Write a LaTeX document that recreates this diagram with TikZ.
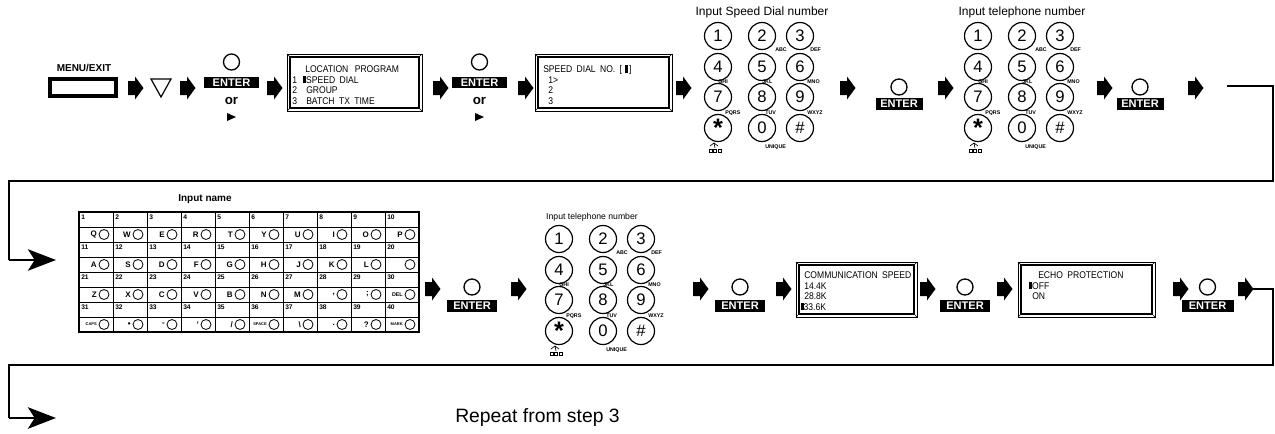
\documentclass[tikz,border=0pt]{standalone}
\usepackage{fontspec}
\setmainfont{Liberation Sans}
\newfontfamily\lcdf[FakeStretch=0.88]{Liberation Sans}
\usetikzlibrary{arrows.meta}
\newcommand\fsz[1]{\fontsize{#1}{#1}\selectfont}
\newcommand\blkarrow[2]{\fill ({#1},{#2-7}) -- ++(7,0) -- ++(0,-4.5) -- ++(8.5,11.5) -- ++(-8.5,11.5) -- ++(0,-4.5) -- ++(-7,0) -- cycle;}
\newcommand\enterbtn[6]{%
  \node[btncirc] (#1c) at (#2,#3) {};
  \node[enterbox, minimum width=#5*0.75pt, minimum height=#6*0.75pt] (#1) at (#2,#4) {ENTER};}
\newcommand\lcdframe[5]{%
  \node[draw, line width=0.6pt, inner sep=0pt, minimum width={(#4-#2)*0.75pt}, minimum height={(#5-#3)*0.75pt}] (#1) at ({(#2+#4)/2},{(#3+#5)/2}) {};
  \draw[line width=1.1pt] ({#2+3},{#3+3}) rectangle ({#4-3},{#5-3});
  \draw[line width=0.4pt] (#2,#3) -- ({#2+3},{#3+3}) (#4,#3) -- ({#4-3},{#3+3}) (#2,#5) -- ({#2+3},{#5-3}) (#4,#5) -- ({#4-3},{#5-3});}
\newcommand\keypad[3]{%
  \begin{scope}[shift={(#2,#3)}]
  \node[key] (#1-1) at (0,0) {1};
  \node[key] (#1-2) at (44,0) {2};
  \node[key] (#1-3) at (82,0) {3};
  \node[key] (#1-4) at (0,31) {4};
  \node[key] (#1-5) at (44,31) {5};
  \node[key] (#1-6) at (82,31) {6};
  \node[key] (#1-7) at (0,61) {7};
  \node[key] (#1-8) at (44,61) {8};
  \node[key] (#1-9) at (82,61) {9};
  \node[key] (#1-s) at (0,92) {\raisebox{-0.3em}{\bfseries\fsz{19}*}};
  \node[key] (#1-0) at (44,92) {0};
  \node[key] (#1-h) at (82,92) {\#};
  \node[sub] (#1-abc) at (57,14) {ABC};
  \node[sub] (#1-def) at (92,14) {DEF};
  \node[sub] (#1-ghi) at (0,46) {GHI};
  \node[sub] (#1-jkl) at (44,46) {JKL};
  \node[sub] (#1-mno) at (89,46) {MNO};
  \node[sub] (#1-pqrs) at (7,77) {PQRS};
  \node[sub] (#1-tuv) at (47,77) {TUV};
  \node[sub] (#1-wxyz) at (89,77) {WXYZ};
  \node[sub] (#1-uni) at (47,111) {UNIQUE};
  \draw[line width=0.4pt] (-9,113) rectangle (-6,116) (-4.5,113) rectangle (-1.5,116) (0,113) rectangle (3,116);
  \draw[line width=0.5pt] (-8,110) -- (-4,107) -- (0,110) (-4,107) -- (-3,112);
  \end{scope}}
\tikzset{
  enterbox/.style={fill=black, text=white, font=\bfseries\fsz{8.3}, inner sep=0pt},
  btncirc/.style={circle, draw, line width=1pt, minimum size=16*0.75pt, inner sep=0pt},
  key/.style={circle, draw, line width=0.9pt, minimum size=27*0.75pt, inner sep=0pt, font=\fsz{12.5}},
  sub/.style={anchor=west, inner sep=0pt, font=\bfseries\fsz{4}},
  lcdtxt/.style={anchor=base west, inner sep=0pt, font=\lcdf\fsz{7.3}},
  kbnum/.style={anchor=west, inner sep=0pt, font=\bfseries\fsz{5}},
  kblet/.style={anchor=east, inner sep=0pt, font=\bfseries\fsz{6}},
  kbc/.style={circle, draw, line width=0.6pt, minimum size=10*0.75pt, inner sep=0pt},
  loopline/.style={line width=2.2pt},
  looparrow/.style={line width=2.2pt, -{Stealth[length=21pt, width=16pt, inset=5pt]}}
}
\newcommand\cur{\rule{2.2pt}{5.4pt}}
\begin{document}
\begin{tikzpicture}[x=0.75pt,y=-0.75pt]
\useasboundingbox (0,0) rectangle (1275,433);
% ---------- row 1 ----------
\node[font=\bfseries\fsz{7.5}] (menulbl) at (84,68) {MENU/EXIT};
\node[draw, line width=3pt, inner sep=0pt, minimum width=66*0.75pt, minimum height=17*0.75pt] (menubtn) at (83,87.5) {};
\blkarrow{128}{88}
\draw[line width=0.9pt] (151,79) -- (171,79) -- (161,97) -- cycle;
\blkarrow{180}{88}
\enterbtn{e1}{231.5}{62}{82.5}{55}{11}
\node[font=\bfseries\fsz{10}] (or1) at (231.5,101) {or};
\fill (227,113) -- (236,117) -- (227,121) -- cycle;
\blkarrow{267}{88}
\lcdframe{lcd1}{287}{54}{422}{111}
\node[lcdtxt] (t1a) at (305,72.5) {LOCATION\hspace{3pt} PROGRAM};
\node[lcdtxt] (t1b) at (292,83) {1};
\node[lcdtxt] (t1bb) at (303,83) {\cur SPEED\hspace{1.5pt} DIAL};
\node[lcdtxt] (t1c) at (292,93.5) {2};
\node[lcdtxt] (t1cc) at (306,93.5) {GROUP};
\node[lcdtxt] (t1d) at (292,104) {3};
\node[lcdtxt] (t1dd) at (306,104) {BATCH\hspace{1.5pt} TX\hspace{1.5pt} TIME};
\blkarrow{433}{88}
\enterbtn{e2}{479.5}{62}{82.5}{55}{11}
\node[font=\bfseries\fsz{10}] (or2) at (479.5,101) {or};
\fill (475,113) -- (484,117) -- (475,121) -- cycle;
\blkarrow{518}{88}
\lcdframe{lcd2}{535}{54}{672}{111}
\node[lcdtxt] (t2a) at (543,72.5) {SPEED\hspace{1.5pt} DIAL\hspace{1.5pt} NO.\hspace{1.5pt} [\hspace{2pt}\cur\hspace{1pt}]};
\node[lcdtxt] (t2b) at (548,83) {1>};
\node[lcdtxt] (t2c) at (548,93.5) {2};
\node[lcdtxt] (t2d) at (548,104) {3};
\blkarrow{676}{88}
\node[font=\fsz{9}] (kp1lbl) at (762,12) {Input Speed Dial number};
\keypad{kpa}{718}{36}
\blkarrow{840}{88}
\enterbtn{e3}{899}{87}{104}{47}{12}
\blkarrow{938}{88}
\node[font=\fsz{9}] (kp2lbl) at (1022,12) {Input telephone number};
\keypad{kpb}{978}{36}
\blkarrow{1097}{88}
\enterbtn{e4}{1140}{87}{104}{47}{12}
\blkarrow{1188}{88}
\coordinate (la) at (1227,86);
\coordinate (lb) at (1273,86);
\coordinate (lc) at (1273,181);
\coordinate (ld) at (9,181);
\coordinate (le) at (9,260);
\coordinate (lf) at (56,260);
\draw[loopline] (la) -- (lb) -- (lc) -- (ld) -- (le);
\draw[looparrow] (le) -- (lf);
% ---------- row 2 ----------
\node[font=\bfseries\fsz{7.5}] (kblbl) at (205,199) {Input name};
\draw[line width=0.55pt] \foreach \k in {1,...,7}{(79,{212+15*\k}) -- (419,{212+15*\k})};
\draw[line width=0.55pt] \foreach \i in {1,...,9}{({79+34*\i},212) -- ({79+34*\i},332)};
\node[draw, line width=1pt, inner sep=0pt, minimum width=340*0.75pt, minimum height=120*0.75pt] (kb) at (249,272) {};
\foreach \r in {0,...,3}{\foreach \i in {1,...,10}{\pgfmathtruncatemacro\n{10*\r+\i}\node[kbnum] (kn\n) at ({79+34*(\i-1)+2},{212+30*\r+5}) {\n};}}
\foreach \c [count=\i] in {Q,W,E,R,T,Y,U,I,O,P}{\node[kblet] (ka\i) at ({79+34*(\i-1)+18},234.5) {\c}; \node[kbc] (kac\i) at ({79+34*(\i-1)+25},234.5) {};}
\foreach \c [count=\i] in {A,S,D,F,G,H,J,K,L,{}}{\node[kblet] (kb\i) at ({79+34*(\i-1)+18},264.5) {\c}; \node[kbc] (kbc\i) at ({79+34*(\i-1)+25},264.5) {};}
\foreach \c [count=\i] in {Z,X,C,V,B,N,M,{,},{;},{\fsz{4}DEL}}{\node[kblet] (kc\i) at ({79+34*(\i-1)+18},294.5) {\c}; \node[kbc] (kcc\i) at ({79+34*(\i-1)+25},294.5) {};}
\foreach \c [count=\i] in {{\fsz{3}CAPS},\textbullet,-,',/,{\fsz{3}SPACE},\textbackslash,.,?,{\fsz{3}MARK}}{\node[kblet] (kd\i) at ({79+34*(\i-1)+18},324.5) {\c}; \node[kbc] (kdc\i) at ({79+34*(\i-1)+25},324.5) {};}
\blkarrow{425}{289}
\enterbtn{ea}{472}{287}{306}{50}{12}
\blkarrow{511}{289}
\node[font=\fsz{6.5}] (kp3lbl) at (592,217) {Input telephone number};
\keypad{kpc}{559}{239}
\blkarrow{693}{289}
\enterbtn{eb}{740}{287}{306}{50}{12}
\blkarrow{776}{289}
\lcdframe{lcd3}{796}{262}{917}{317}
\node[lcdtxt] (t3a) at (804,278.5) {COMMUNICATION\hspace{1.5pt} SPEED};
\node[lcdtxt] (t3b) at (804,289) {14.4K};
\node[lcdtxt] (t3c) at (804,299.5) {28.8K};
\node[lcdtxt] (t3d) at (800.5,310) {\cur 33.6K};
\blkarrow{920}{289}
\enterbtn{ec}{965}{287}{306}{50}{12}
\blkarrow{997}{289}
\lcdframe{lcd4}{1018}{262}{1155}{317}
\node[lcdtxt] (t4a) at (1038,278.5) {ECHO\hspace{1.5pt} PROTECTION};
\node[lcdtxt] (t4b) at (1029,289) {\cur OFF};
\node[lcdtxt] (t4c) at (1032,299.5) {ON};
\blkarrow{1173}{289}
\enterbtn{ed}{1207.5}{287}{306}{52}{12}
\blkarrow{1238}{289}
\coordinate (ma) at (1253,289);
\coordinate (mb) at (1273,289);
\coordinate (mc) at (1273,365);
\coordinate (md) at (9,365);
\coordinate (me) at (9,418);
\coordinate (mf) at (56,418);
\draw[loopline] (ma) -- (mb) -- (mc) -- (md) -- (me);
\draw[looparrow] (me) -- (mf);
\node[font=\fsz{14.5}, anchor=west, inner sep=0pt] (repeat) at (455,418) {Repeat from step 3};
\end{tikzpicture}
\end{document}
